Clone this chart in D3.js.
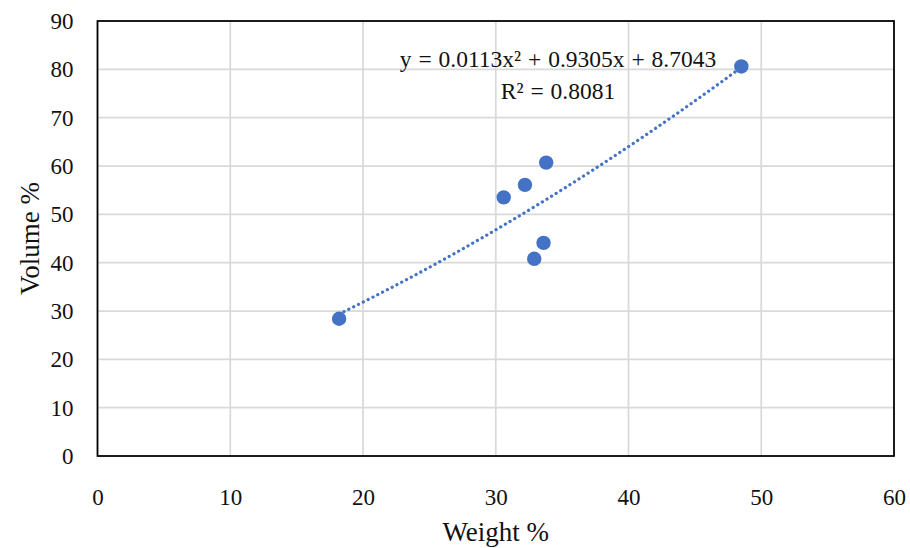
<!DOCTYPE html>
<html>
<head>
<meta charset="utf-8">
<script src="https://cdn.jsdelivr.net/npm/d3@7"></script>
<style>
	body { margin: 0; background: #ffffff; }
	svg { display: block; font-family: "Liberation Serif", "Times New Roman", serif; }
</style>
</head>
<body>
<script>
	// data
	var weight = [ 18.2, 30.6, 32.2, 33.8, 33.6, 32.9, 48.5 ];
	var volume = [ 28.4, 53.5, 56.1, 60.7, 44.1, 40.8, 80.6 ];
	var xTicks = [ 0, 10, 20, 30, 40, 50, 60 ];
	var yTicks = [ 0, 10, 20, 30, 40, 50, 60, 70, 80, 90 ];
	// trendline y = a x^2 + b x + c, as printed on the chart
	var trendCoef = [ 0.0113, 0.9305, 8.7043 ];
	var trendLabel = [ "y = 0.0113x² + 0.9305x + 8.7043", "R² = 0.8081" ];

	var width = 910, height = 548;
	var margin = { left: 97.5, right: 16, top: 21, bottom: 92 };
	var blue = "#4472c4";

	var svg = d3.select("body").append("svg")//
	.attr("width", width)//
	.attr("height", height);

	var x = d3.scaleLinear().domain([ 0, 60 ]).range([ margin.left, width - margin.right ]);
	var y = d3.scaleLinear().domain([ 0, 90 ]).range([ height - margin.bottom, margin.top ]);

	// gridlines
	svg.append("g").selectAll("line.vgrid").data(xTicks).enter().append("line")//
	.attr("class", "vgrid")//
	.attr("x1", function(d) { return x(d); })//
	.attr("x2", function(d) { return x(d); })//
	.attr("y1", y(0))//
	.attr("y2", y(90))//
	.attr("stroke", "#d9d9d9")//
	.attr("stroke-width", 1.75);

	svg.append("g").selectAll("line.hgrid").data(yTicks).enter().append("line")//
	.attr("class", "hgrid")//
	.attr("x1", x(0))//
	.attr("x2", x(60))//
	.attr("y1", function(d) { return y(d); })//
	.attr("y2", function(d) { return y(d); })//
	.attr("stroke", "#d9d9d9")//
	.attr("stroke-width", 1.75);

	// axes (labels only, box drawn separately)
	var xAxis = svg.append("g")//
	.attr("transform", "translate(0," + y(0) + ")")//
	.call(d3.axisBottom(x).tickValues(xTicks).tickSize(0).tickPadding(33));
	var yAxis = svg.append("g")//
	.attr("transform", "translate(" + x(0) + ",0)")//
	.call(d3.axisLeft(y).tickValues(yTicks).tickSize(0).tickPadding(24));

	[ xAxis, yAxis ].forEach(function(a) {
		a.select(".domain").remove();
		a.selectAll("text")//
		.attr("font-family", "Liberation Serif, serif")//
		.attr("font-size", "23px")//
		.attr("fill", "#111111");
	});

	// plot box
	svg.append("rect")//
	.attr("x", x(0))//
	.attr("y", y(90))//
	.attr("width", x(60) - x(0))//
	.attr("height", y(0) - y(90))//
	.attr("fill", "none")//
	.attr("stroke", "#000000")//
	.attr("stroke-width", 1.75);

	// trendline
	var xMin = d3.min(weight), xMax = d3.max(weight);
	var trendX = d3.range(xMin, xMax, 0.25).concat([ xMax ]);
	var line = d3.line()//
	.x(function(d) { return x(d); })//
	.y(function(d) { return y(trendCoef[0] * d * d + trendCoef[1] * d + trendCoef[2]); });

	svg.append("path")//
	.datum(trendX)//
	.attr("d", line)//
	.attr("fill", "none")//
	.attr("stroke", blue)//
	.attr("stroke-width", 3.2)//
	.attr("stroke-linecap", "round")//
	.attr("stroke-dasharray", "0.1,5.3");

	// points
	svg.append("g").selectAll("circle").data(weight).enter().append("circle")//
	.attr("cx", function(d) { return x(d); })//
	.attr("cy", function(d, i) { return y(volume[i]); })//
	.attr("r", 7.2)//
	.attr("fill", blue);

	// trendline label
	svg.append("g").selectAll("text").data(trendLabel).enter().append("text")//
	.attr("x", 558)//
	.attr("y", function(d, i) { return 67 + i * 32; })//
	.attr("text-anchor", "middle")//
	.attr("font-size", "23.5px")//
	.attr("word-spacing", "1px")//
	.attr("fill", "#111111")//
	.text(function(d) { return d; });

	// axis titles
	svg.append("text")//
	.attr("x", (x(0) + x(60)) / 2)//
	.attr("y", 541)//
	.attr("text-anchor", "middle")//
	.attr("font-size", "27px")//
	.attr("fill", "#111111")//
	.text("Weight %");

	svg.append("text")//
	.attr("transform", "translate(39," + (y(0) + y(90)) / 2 + ") rotate(-90)")//
	.attr("text-anchor", "middle")//
	.attr("font-size", "27px")//
	.attr("fill", "#111111")//
	.text("Volume %");
</script>
</body>
</html>
